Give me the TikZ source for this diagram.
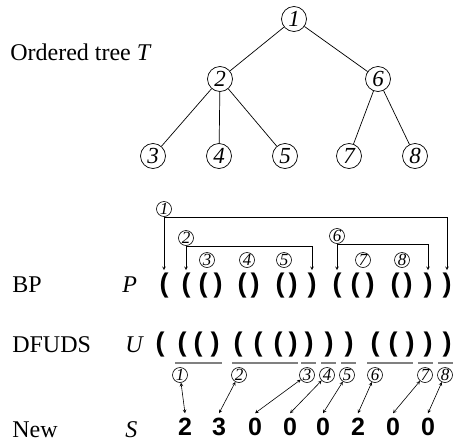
\documentclass[tikz,border=0pt]{standalone}
\usepackage{fontspec}
\setmainfont{Liberation Serif}
\setsansfont{Liberation Sans}

\begin{document}
\begin{tikzpicture}[x=1pt, y=-1pt, >=stealth, line width=0.6pt]
\useasboundingbox (0,0) rectangle (455,442);
\tikzstyle{tree node}=[circle, draw, line width=0.7pt, inner sep=0pt,
                       minimum size=25pt, font=\fontsize{23}{23}\selectfont\itshape]
\tikzstyle{small node}=[circle, draw, inner sep=0pt,
                        minimum size=15pt, font=\fontsize{17}{17}\selectfont\itshape]
\tikzstyle{paren}=[inner sep=2pt, anchor=base,
                   font=\fontsize{27}{27}\selectfont\sffamily\bfseries]
\tikzstyle{digit}=[inner sep=4pt, anchor=base,
                   font=\fontsize{25}{25}\selectfont\sffamily\bfseries]
\tikzstyle{rowname}=[inner sep=0pt, anchor=base west,
                     font=\fontsize{24}{24}\selectfont]
\tikzstyle{ubar}=[black!50, line width=2pt]

% the tree
\node[tree node] (1) at (294,19){1};
\node[tree node] (2) at (220,79){2};
\node[tree node] (6) at (378,79){6};
\node[tree node] (3) at (153,156){3};
\node[tree node] (4) at (219,156){4};
\node[tree node] (5) at (285,156){5};
\node[tree node] (7) at (349,156){7};
\node[tree node] (8) at (415,156){8};
\foreach \i/\j in {1/2,1/6,2/3,2/4,2/5,6/7,6/8}{\draw[line width=0.7pt] (\i) -- (\j);}

% row names
\node[rowname] (tname) at (10,60){Ordered tree \textit{T}};
\node[rowname] (bp) at (12,292){BP};
\node[rowname] (dfuds) at (12,352){DFUDS};
\node[rowname] (new) at (12,437){New};
\node[rowname] (P) at (122,292){\textit{P}};
\node[rowname] (U) at (125,352){\textit{U}};
\node[rowname] (S) at (125,437){\textit{S}};

% BP
\foreach \i/\x/\c in {1/164/(,2/186/(,3/203/(,4/218/),5/242/(,6/255/),7/280/(,8/293/),
                      9/312/),10/337/(,11/355/(,12/370/),13/395/(,14/408/),15/428/),16/447/)}
  {\node[paren] (p\i) at (\x,292){\c};}
\node[small node] (b1) at (164,209){1};
\node[small node] (b2) at (186,238){2};
\node[small node] (b6) at (337,236){6};
\foreach \i/\x in {3/207,4/247,5/284,7/363,8/402}{\node[small node] (b\i) at (\x,260){\i};}
\foreach \i/\j/\k in {1/1/16,2/2/9,6/10/15}{
  \draw[->] (b\i) -- (p\j.north);
  \draw[->] (b\i.south) -| (p\k.north);}

% DFUDS
\foreach \i/\x/\c in {1/160/(,2/182/(,3/198/(,4/215/),5/238/(,6/258/(,7/278/(,8/293/),
                      9/309/),10/329/),11/349/),12/375/(,13/393/(,14/410/),15/428/),16/447/)}
  {\node[paren] (u\i) at (\x,351){\c};}
\foreach \a/\b in {175/222,232/298,301/316,321/336,341/356,367/413,418/433,438/453}
  {\draw[ubar] (\a,363) -- (\b,363);}
\foreach \i/\x in {1/180,2/239,3/307,4/327,5/347,6/375,7/425,8/445}
  {\node[small node] (d\i) at (\x,375){\i};}

% new sequence
\foreach \i/\x/\c in {1/185/2,2/219/3,3/255/0,4/290/0,5/323/0,6/358/2,7/393/0,8/428/0}
  {\node[digit] (s\i) at (\x,435){\c};}
\foreach \i in {1,...,8}{\draw[<->] (d\i) -- (s\i.north);}
\end{tikzpicture}
\end{document}
